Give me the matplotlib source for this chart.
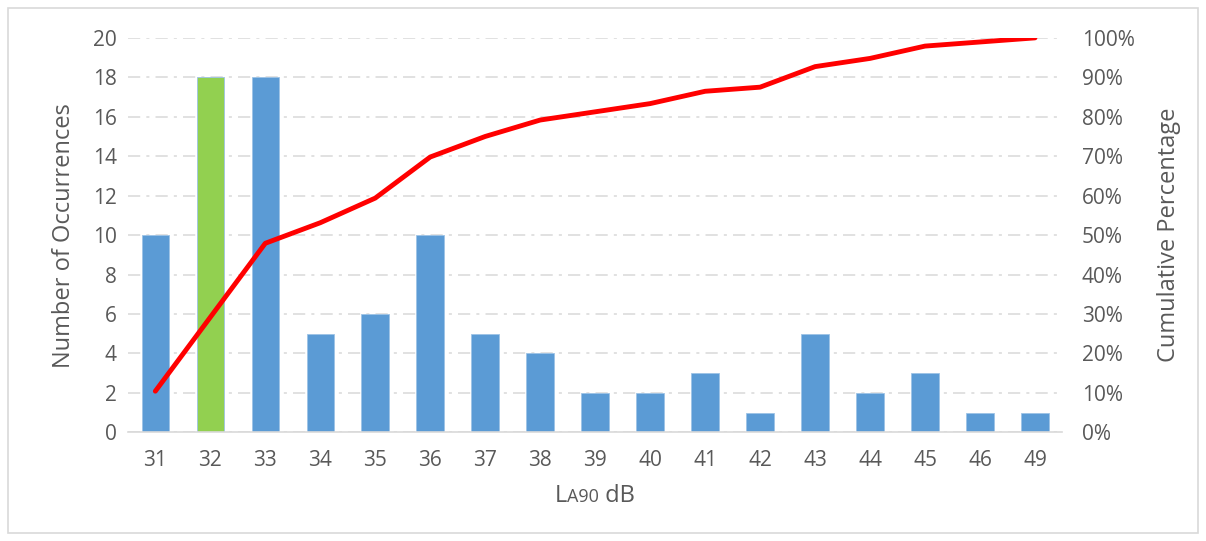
import numpy as np
import matplotlib.pyplot as plt
from matplotlib.ticker import FuncFormatter
from matplotlib.offsetbox import TextArea, HPacker, AnchoredOffsetbox
from matplotlib.patches import Rectangle

# LA90 levels and how often each was recorded
levels = ["31", "32", "33", "34", "35", "36", "37", "38", "39", "40",
          "41", "42", "43", "44", "45", "46", "49"]
counts = [10, 18, 18, 5, 6, 10, 5, 4, 2, 2, 3, 1, 5, 2, 3, 1, 1]
highlight = "32"

BLUE = "#5B9BD5"
GREEN = "#92D050"
RED = "#FF0000"
TXT = "#595959"
GRID = "#D9D9D9"

plt.rcParams["font.family"] = ["Open Sans", "DejaVu Sans"]

cum_pct = np.cumsum(counts) / np.sum(counts)
x = np.arange(len(levels))
colors = [GREEN if lv == highlight else BLUE for lv in levels]

fig = plt.figure(figsize=(12.06, 5.41), dpi=100)
fig.patches.append(Rectangle((0.007, 0.015), 0.986, 0.97, transform=fig.transFigure,
                             fill=False, edgecolor="#D9D9D9", linewidth=1.2))
ax = fig.add_axes([0.106, 0.201, 0.775, 0.729])

ax.bar(x, counts, width=0.5, color=colors, edgecolor="#9DC3E6", linewidth=0.6, zorder=2)
ax.set_xlim(-0.5, len(levels) - 0.5)
ax.set_ylim(0, 20)
ax.set_yticks(range(0, 21, 2))
ax.set_xticks(x)
ax.set_xticklabels(levels)
ax.grid(axis="y", color=GRID, linestyle=(0, (8, 4, 2, 4)), linewidth=1.1, zorder=0)
for s in ["top", "right", "left"]:
    ax.spines[s].set_visible(False)
ax.spines["bottom"].set_color(GRID)
ax.spines["bottom"].set_linewidth(1.2)
ax.tick_params(length=0, labelsize=15, colors=TXT, pad=8)
ax.tick_params(axis="x", pad=13)
ax.set_ylabel("Number of Occurrences", fontsize=17, color=TXT, labelpad=12)

ax2 = ax.twinx()
ax2.plot(x, cum_pct, color=RED, linewidth=3.5, solid_capstyle="round", zorder=3)
ax2.set_ylim(0, 1)
ax2.set_yticks(np.linspace(0, 1, 11))
ax2.yaxis.set_major_formatter(FuncFormatter(lambda v, _: f"{v * 100:.0f}%"))
for s in ax2.spines.values():
    s.set_visible(False)
ax2.tick_params(length=0, labelsize=15, colors=TXT, pad=14)
ax2.set_ylabel("Cumulative Percentage", fontsize=17, color=TXT, labelpad=16)

# x label: "L" with small-caps "A90" then "dB"
parts = [TextArea("L", textprops=dict(fontsize=17, color=TXT)),
         TextArea("A90", textprops=dict(fontsize=13, color=TXT)),
         TextArea(" dB", textprops=dict(fontsize=17, color=TXT))]
label = HPacker(children=parts, align="baseline", pad=0, sep=0)
box = AnchoredOffsetbox(loc="upper center", child=label, frameon=False,
                        bbox_to_anchor=(0.5, -0.13), bbox_transform=ax.transAxes,
                        borderpad=0, pad=0)
ax.add_artist(box)

fig.savefig("out.png", dpi=100)
